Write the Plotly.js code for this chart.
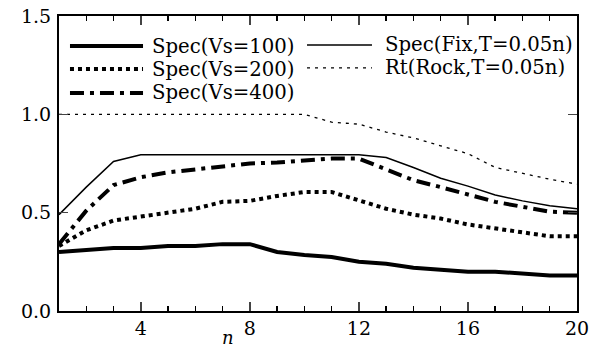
<!DOCTYPE html>
<html>
<head>
<meta charset="utf-8">
<script src="https://cdn.plot.ly/plotly-3.0.1.min.js"></script>
<style>html,body{margin:0;padding:0;background:#fff;}#chart{width:597px;height:352px;}</style>
</head>
<body>
<div id="chart"></div>
<script>
const n = [1,2,3,4,5,6,7,8,9,10,11,12,13,14,15,16,17,18,19,20];
const specVs100 = [0.30,0.31,0.32,0.32,0.33,0.33,0.34,0.34,0.30,0.285,0.275,0.25,0.24,0.22,0.21,0.20,0.20,0.19,0.18,0.18];
const specVs200 = [0.33,0.41,0.46,0.48,0.50,0.52,0.555,0.56,0.585,0.605,0.605,0.565,0.52,0.49,0.47,0.44,0.42,0.40,0.38,0.38];
const specVs400 = [0.34,0.51,0.64,0.68,0.705,0.72,0.73,0.75,0.755,0.765,0.775,0.775,0.72,0.665,0.63,0.595,0.555,0.53,0.505,0.50];
const specFix = [0.49,0.63,0.76,0.795,0.795,0.795,0.795,0.795,0.795,0.795,0.795,0.795,0.78,0.73,0.675,0.635,0.59,0.56,0.535,0.52];
const rtRock = [1.0,1.0,1.0,1.0,1.0,1.0,1.0,1.0,1.0,1.0,0.96,0.95,0.91,0.88,0.84,0.80,0.73,0.70,0.67,0.645];
const names = ['Spec(Vs=100)','Spec(Vs=200)','Spec(Vs=400)','Spec(Fix,T=0.05n)','Rt(Rock,T=0.05n)'];
const xTickVals = [4,8,12,16,20];
const yTickVals = [0.0,0.5,1.0,1.5];
const yTickText = ['0.0','0.5','1.0','1.5'];

const styles = [
  {width:4, dash:'solid'},
  {width:4, dash:'4px,4px'},
  {width:4, dash:'14px,6px,4px,6px'},
  {width:1.5, dash:'solid'},
  {width:1.3, dash:'3px,5px'}
];
const series = [specVs100, specVs200, specVs400, specFix, rtRock];
const traces = series.map((s,i)=>({
  x:n, y:s, type:'scatter', mode:'lines', name:names[i], showlegend:false,
  line:{color:'#000', width:styles[i].width, dash:styles[i].dash}
}));

const font = {family:'DejaVu Serif', color:'#000'};
// manual legend (two columns)
const legPos = [
  {x0:0.0212, x1:0.1622, tx:0.1757, y:0.898},
  {x0:0.0212, x1:0.1622, tx:0.1757, y:0.820},
  {x0:0.0212, x1:0.1622, tx:0.1757, y:0.739},
  {x0:0.4788, x1:0.6042, tx:0.6255, y:0.902},
  {x0:0.4788, x1:0.6042, tx:0.6255, y:0.824}
];
const shapes = legPos.map((p,i)=>({
  type:'line', xref:'paper', yref:'paper', x0:p.x0, x1:p.x1, y0:p.y, y1:p.y,
  line:{color:'#000', width:styles[i].width, dash:styles[i].dash}
}));
const annotations = legPos.map((p,i)=>({
  xref:'paper', yref:'paper', x:p.tx, y:p.y, xanchor:'left', yanchor:'middle',
  text:names[i], showarrow:false, font:Object.assign({size:19.7}, font)
}));
annotations.push({xref:'paper', yref:'paper', x:0.326, y:-0.0915, xanchor:'center', yanchor:'middle',
  text:'<i>n</i>', showarrow:false, font:Object.assign({size:18}, font)});

const layout = {
  width:597, height:352,
  margin:{l:59, r:20, t:16, b:41},
  paper_bgcolor:'#fff', plot_bgcolor:'#fff',
  font:Object.assign({size:19}, font),
  showlegend:false,
  xaxis:{
    range:[1,20], tickmode:'array', tickvals:xTickVals, ticks:'inside', ticklen:9, tickwidth:1.5,
    showline:true, linewidth:2, linecolor:'#000', mirror:'ticks', showgrid:false, zeroline:false,
    minor:{dtick:1, tick0:0, ticks:'inside', ticklen:5, tickwidth:1.5, tickcolor:'#000', showgrid:false},
    ticklabelstandoff:-1,
    tickfont:Object.assign({size:19}, font)
  },
  yaxis:{
    range:[0,1.5], tickmode:'array', tickvals:yTickVals, ticktext:yTickText, ticks:'inside', ticklen:9, tickwidth:1.5,
    showline:true, linewidth:2, linecolor:'#000', mirror:'ticks', showgrid:false, zeroline:false,
    ticklabelstandoff:2,
    tickfont:Object.assign({size:19}, font)
  },
  shapes:shapes,
  annotations:annotations
};
Plotly.newPlot('chart', traces, layout, {staticPlot:true, displayModeBar:false});
</script>
</body>
</html>
